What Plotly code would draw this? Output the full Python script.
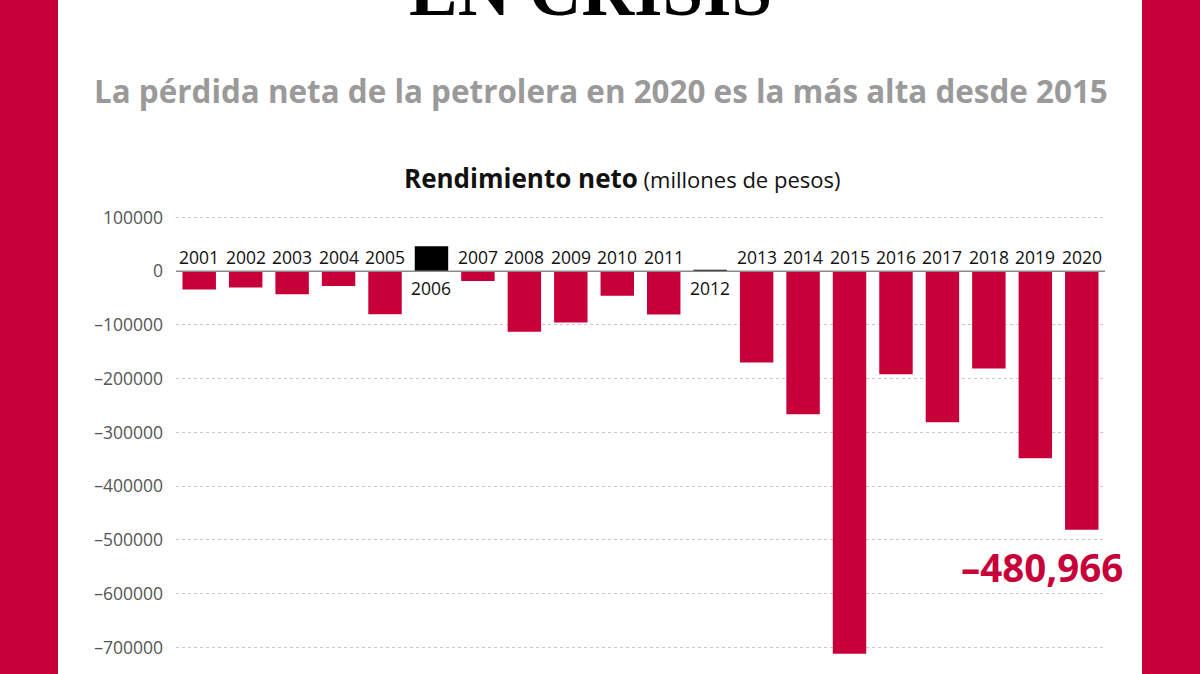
import plotly.graph_objects as go

years = list(range(2001, 2021))
values = [-34300, -30600, -43000, -27500, -80100, 46500, -18300, -112800, -95500, -46000,
          -80700, 2600, -169800, -266000, -711500, -192000, -281000, -181000, -348000, -480966]
y_ticks = [100000, 0, -100000, -200000, -300000, -400000, -500000, -600000, -700000]
y_tick_labels = ["100000", "0", "\u2013100000", "\u2013200000", "\u2013300000", "\u2013400000",
                 "\u2013500000", "\u2013600000", "\u2013700000"]

RED = "#C8003A"
colors = ["#000000" if v > 0 else RED for v in values]

fig = go.Figure()
fig.add_trace(go.Bar(x=years, y=values, marker=dict(color=colors, line=dict(width=0)),
                     width=0.72, hoverinfo="x+y"))

W, H = 1200, 674
L, R, T, B = 176, 95, 212, 5
pw, ph = W - L - R, H - T - B

def px_x(p):
    return (p - L) / pw

def px_y(p):
    return 1 + (T - p) / ph

# red side borders / white panel
fig.add_shape(type="rect", xref="paper", yref="paper", x0=px_x(58), x1=px_x(1142),
              y0=px_y(H + 10), y1=px_y(-10), fillcolor="white", line=dict(width=0), layer="below")

# zero line
fig.add_shape(type="line", xref="paper", yref="y", x0=0, x1=1, y0=0, y1=0,
              line=dict(color="#8a8a8a", width=1.5), layer="above")

annotations = []
for yr, v in zip(years, values):
    annotations.append(dict(x=yr, y=0, xref="x", yref="y", text=str(yr), showarrow=False,
                            yanchor="bottom" if v < 0 else "top",
                            yshift=0 if v < 0 else -3,
                            font=dict(family="Open Sans", size=17.5, color="#111111")))

annotations.append(dict(x=px_x(590), y=px_y(33), xref="paper", yref="paper", text="<b>EN CRISIS</b>",
                        showarrow=False, yanchor="bottom", xanchor="center",
                        font=dict(family="Liberation Serif", size=73, color="#000000")))
annotations.append(dict(x=px_x(601), y=px_y(90), xref="paper", yref="paper",
                        text="<b>La pérdida neta de la petrolera en 2020 es la más alta desde 2015</b>",
                        showarrow=False, yanchor="middle", xanchor="center",
                        font=dict(family="Open Sans", size=31.4, color="#9a9a9a")))
annotations.append(dict(x=px_x(622), y=px_y(178), xref="paper", yref="paper",
                        text="<b>Rendimiento neto</b><span style='font-size:22px'> (millones de pesos)</span>",
                        showarrow=False, yanchor="middle", xanchor="center",
                        font=dict(family="Open Sans", size=26, color="#111111")))
annotations.append(dict(x=years[-1], y=values[-1], xref="x", yref="y",
                        text="<b>\u2013480,966</b>", showarrow=False, yanchor="top", xanchor="center",
                        xshift=-40, yshift=-9,
                        font=dict(family="Open Sans", size=38.5, color=RED)))

fig.update_layout(
    width=W, height=H, margin=dict(l=L, r=R, t=T, b=B),
    paper_bgcolor=RED, plot_bgcolor="white", showlegend=False,
    annotations=annotations,
    xaxis=dict(range=[2000.5, 2020.5], showticklabels=False, showgrid=False, zeroline=False,
               fixedrange=True),
    yaxis=dict(range=[-740000, 110000], tickvals=y_ticks, ticktext=y_tick_labels,
               showgrid=True, gridcolor="#c8c8c8", griddash="dot", gridwidth=1, zeroline=False,
               tickfont=dict(family="Open Sans", size=17.5, color="#555555"), ticklen=0,
               ticks="", ticklabelstandoff=12, fixedrange=True),
    font=dict(family="Open Sans"),
)

fig.write_html("out.html")
